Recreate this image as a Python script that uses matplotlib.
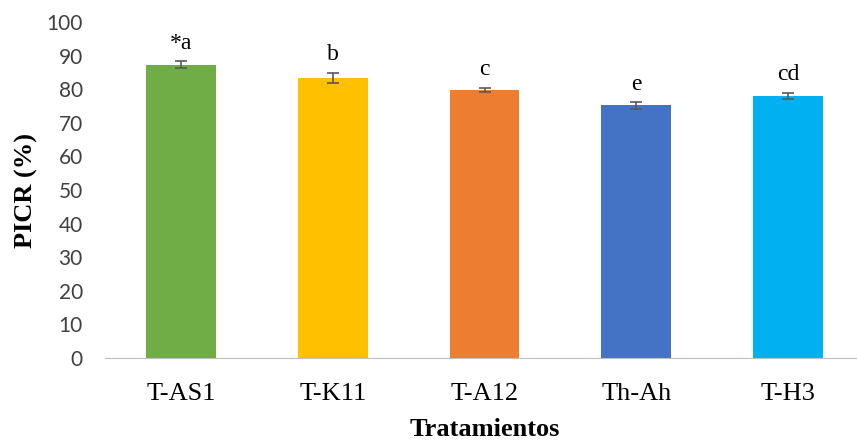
import matplotlib.pyplot as plt

treatments = ['T-AS1', 'T-K11', 'T-A12', 'Th-Ah', 'T-H3']
picr = [87.3, 83.4, 79.8, 75.2, 78.0]
picr_err = [1.0, 1.5, 0.6, 1.0, 1.0]
letters = ['*a', 'b', 'c', 'e', 'cd']
colors = ['#70AD47', '#FFC000', '#ED7D31', '#4472C4', '#00B0F0']

fig = plt.figure(figsize=(8.57, 4.41), dpi=100)
ax = fig.add_axes([105 / 857, (441 - 358) / 441, 759 / 857, 336 / 441])

x = range(len(treatments))
ax.bar(x, picr, width=0.46, color=colors, yerr=picr_err,
       error_kw=dict(ecolor='#595959', elinewidth=1.2, capsize=4, capthick=1.2))

# significance letters above each bar
for i, (v, e, lab) in enumerate(zip(picr, picr_err, letters)):
    ax.text(i, v + e + 2.2, lab, ha='center', va='bottom',
            fontsize=17, family='Liberation Serif')

ax.set_xlim(-0.5, len(treatments) - 0.5)
ax.set_ylim(0, 100)
ax.set_yticks(range(0, 101, 10))
for side in ['top', 'right', 'left']:
    ax.spines[side].set_visible(False)
ax.spines['bottom'].set_color('#BFBFBF')
ax.tick_params(axis='both', length=0)
ax.tick_params(axis='y', pad=16, labelsize=15, labelcolor='#404040')
ax.tick_params(axis='x', pad=18, labelsize=19)
ax.set_xticks(list(x))
ax.set_xticklabels(treatments, family='Liberation Serif')
for t in ax.get_yticklabels():
    t.set_family('Lato')

ax.set_xlabel('Tratamientos', family='Liberation Serif', fontweight='bold',
              fontsize=19, labelpad=9)
ax.set_ylabel('PICR (%)', family='Liberation Serif', fontweight='bold',
              fontsize=19, labelpad=6)

fig.savefig('out.png', dpi=100)
